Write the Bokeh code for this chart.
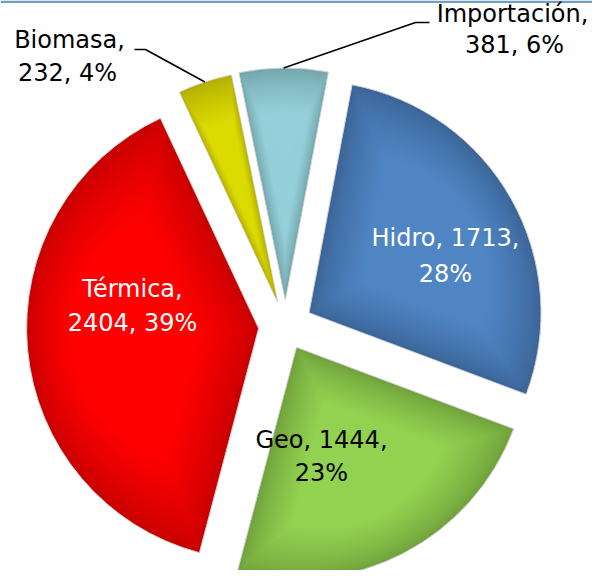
import math
from bokeh.plotting import figure
from bokeh.models import Range1d
from bokeh.embed import file_html
from bokeh.resources import INLINE
from bokeh.core.properties import value

# ---------------- data ----------------
categories = ["Hidro", "Geo", "Térmica", "Biomasa", "Importación"]
values = [1713, 1444, 2404, 232, 381]
# whether the value goes on the first line of the label (Excel wrapping)
value_on_first_line = [True, True, False, False, False]

# ---------------- styles ----------------
light_colors = ["#5085c4", "#93d251", "#ff0000", "#dbdb00", "#95cfd9"]
dark_colors = ["#3b6598", "#70a23c", "#c80000", "#b2ae00", "#73a6ac"]
label_colors = ["white", "black", "white", "black", "black"]
FONT = "DejaVu Sans"
FONT_SIZE = "24px"

# ---------------- layout (reference pixel coordinates) ----------------
W, H, M = 608, 586, 8
CX, CY = 293.0, 333.5
R = 232.0
EXPLODE = [27, 24, 27, 25, 26]
FIRST_ANGLE = 10.7  # degrees clockwise from 12 o'clock
label_pos = [
    [(453, 245), (453, 281)],
    [(329, 447), (329, 480)],
    [(140, 296), (140, 330)],
    [(77, 47), (75, 80)],
    [(520, 21), (522, 52)],
]
leader_elbows = {3: [(142, 57), (153, 57)], 4: [(437, 30), (423, 30)]}


def up(y):
    return H - y


p = figure(width=W - 2 * M, height=H - 2 * M,
           x_range=Range1d(M, W - M), y_range=Range1d(M, H - M),
           output_backend="svg", toolbar_location=None,
           x_axis_location=None, y_axis_location=None,
           min_border=0, background_fill_color="white",
           border_fill_color="white")
p.grid.visible = False
p.outline_line_color = None

# slide header line
p.quad(left=[M], right=[W - M], top=[up(M)], bottom=[up(M + 2.5)],
       fill_color="#729ec3", line_color=None)

total = float(sum(values))
theta = FIRST_ANGLE
geo = []
for i, v in enumerate(values):
    span = v / total * 360.0
    t1, t2 = theta, theta + span
    theta = t2
    mid = math.radians((t1 + t2) / 2)
    cx = CX + EXPLODE[i] * math.sin(mid)
    cy = up(CY) + EXPLODE[i] * math.cos(mid)
    geo.append((cx, cy, t1, t2, mid))

# base wedges
p.wedge(x=[g[0] for g in geo], y=[g[1] for g in geo], radius=R,
        start_angle=[math.radians(90 - g[3]) for g in geo],
        end_angle=[math.radians(90 - g[2]) for g in geo],
        direction="anticlock", fill_color=dark_colors,
        line_color="#d0d0d0", line_width=1.0)


def hex2rgb(h):
    h = h.lstrip("#")
    return [int(h[k:k + 2], 16) for k in (0, 2, 4)]


def mix(a, b, t):
    ca, cb = hex2rgb(a), hex2rgb(b)
    return "#%02x%02x%02x" % tuple(int(round(ca[k] + (cb[k] - ca[k]) * t)) for k in range(3))


# gradient shading layers (soft radial glow toward each slice's middle)
xs, ys, cols = [], [], []
NL = 40
for i, (cx, cy, t1, t2, mid) in enumerate(geo):
    n = 60
    px = [cx] + [cx + R * math.sin(math.radians(t1 + (t2 - t1) * k / n)) for k in range(n + 1)]
    py = [cy] + [cy + R * math.cos(math.radians(t1 + (t2 - t1) * k / n)) for k in range(n + 1)]
    fx = cx + 0.58 * R * math.sin(mid)
    fy = cy + 0.58 * R * math.cos(mid)
    for L in range(1, NL):
        s = 1 - L / NL
        tt = min(1.0, (1 - s) / 0.45) ** 0.75
        xs.append([fx + (x - fx) * s for x in px])
        ys.append([fy + (y - fy) * s for y in py])
        cols.append(mix(dark_colors[i], light_colors[i], tt))
p.patches(xs=xs, ys=ys, fill_color=cols, line_color=None)

# leader lines
for i, elbows in leader_elbows.items():
    cx, cy, t1, t2, mid = geo[i]
    ex = cx + R * math.sin(mid)
    ey = cy + R * math.cos(mid)
    lx = [e[0] for e in elbows] + [ex]
    ly = [up(e[1]) for e in elbows] + [ey]
    p.line(lx, ly, line_color="black", line_width=1.6)

# labels
tx, ty, tt_, tc = [], [], [], []
for i, (c, v) in enumerate(zip(categories, values)):
    pct = round(v / total * 100)
    if value_on_first_line[i]:
        lines = [f"{c}, {v},", f"{pct}%"]
    else:
        lines = [f"{c},", f"{v}, {pct}%"]
    for (x, y), s in zip(label_pos[i], lines):
        tx.append(x)
        ty.append(up(y))
        tt_.append(s)
        tc.append(label_colors[i])
p.text(x=tx, y=ty, text=tt_, text_color=tc, text_align="center",
       text_baseline="middle", text_font=value(FONT), text_font_size=FONT_SIZE)

open("out.html", "w").write(file_html(p, INLINE))
